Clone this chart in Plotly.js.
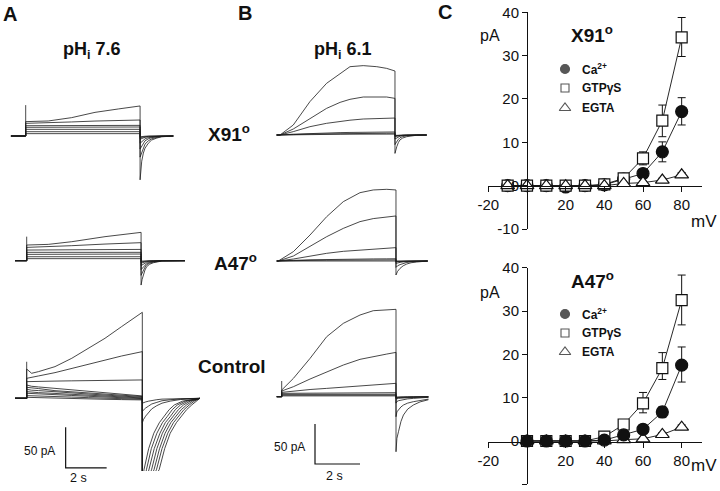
<!DOCTYPE html>
<html>
<head>
<meta charset="utf-8">
<script src="https://cdn.plot.ly/plotly-3.0.1.min.js"></script>
<style>html,body{margin:0;padding:0;background:#fff}#chart{width:720px;height:491px}</style>
</head>
<body>
<div id="chart"></div>
<script>
// ---------------- DATA (currents in pA, time in s from step onset) ----------------
// Panel A, X91 (pHi 7.6)
const aX91Hold = [-0.72];
const aX91StepT = [0, 1.1, 2.24, 3.38, 4.52, 5.58];
const aX91Steps = [
  [17.7, 18.5, 22.6, 29.1, 33.3, 37.0],
  [15.6, 16.2, 17.3, 18.4, 19.1, 19.7],
  [12.7, 12.8, 12.9, 13.0, 13.1, 13.1],
  [10.7, 10.8, 10.9, 11.0, 11.1, 11.1],
  [8.2, 8.2, 8.2, 8.2, 8.2, 8.2],
  [5.3, 5.3, 5.3, 5.3, 5.3, 5.3],
  [2.9, 2.9, 2.9, 2.9, 2.9, 2.9]
];
const aX91TailT = [5.58, 5.62, 5.66, 5.74, 5.82, 5.98, 6.14, 6.4, 6.63, 7.2];
const aX91Tails = [
  [-54, -40, -31, -21, -15, -9, -5, -2.5, -1, 0],
  [-26, -23, -20, -14, -10, -6, -3.5, -1.7, -0.7, 0],
  [-16, -14, -12, -8.5, -6, -3.5, -2, -1, -0.4, 0],
  [-9, -8, -7, -5, -3.5, -2, -1.2, -0.5, -0.2, 0],
  [-4, -3.5, -3, -2.2, -1.5, -0.9, -0.5, -0.2, 0, 0],
  [-2, -1.8, -1.5, -1.1, -0.8, -0.4, -0.2, 0, 0, 0],
  [-1, -0.8, -0.6, -0.4, -0.3, -0.1, 0, 0, 0, 0]
];
const aX91Spike = [0, 38];

// Panel A, A47
const aA47Hold = [-0.57];
const aA47StepT = [0, 1.05, 2.2, 3.82, 5.58];
const aA47Steps = [
  [19.3, 20.1, 23.4, 29.6, 34.9],
  [16.4, 17.2, 18.5, 20.5, 22.2],
  [13.1, 13.3, 13.5, 13.7, 13.9],
  [10.3, 10.3, 10.3, 10.3, 10.3],
  [7.8, 7.9, 8.0, 8.1, 8.2],
  [4.9, 4.9, 4.9, 4.9, 4.9],
  [2.5, 2.5, 2.5, 2.5, 2.5]
];
const aA47TailT = [5.58, 5.63, 5.69, 5.77, 5.85, 6.0, 6.18, 6.59, 7.72];
const aA47Tails = [
  [-30, -23, -17.6, -11.5, -7.4, -4.3, -2.5, -0.4, 0],
  [-18, -15, -12, -8, -5, -3, -1.7, -0.3, 0],
  [-11, -9.5, -8, -5.5, -3.5, -2.1, -1.2, -0.2, 0],
  [-6, -5.3, -4.5, -3, -2, -1.2, -0.7, 0, 0],
  [-3, -2.5, -2, -1.5, -1, -0.6, -0.3, 0, 0],
  [-1.5, -1.2, -1, -0.7, -0.5, -0.2, 0, 0, 0],
  [-0.5, -0.4, -0.3, -0.2, 0, 0, 0, 0, 0]
];
const aA47Spike = [0, 29.6];

// Panel A, Control
const aCtlHold = [-0.57];
const aCtlStepT = [0, 0.24, 0.57, 1.38, 2.2, 3.0, 3.82, 4.63, 5.64];
const aCtlSteps = [
  [36, 30.8, 32.8, 39, 49.3, 61.6, 73.9, 88.3, 105.9],
  [24.6, 25.5, 27.5, 31.6, 36.9, 42.3, 47.2, 52.1, 57.5],
  [20.5, 20.5, 20.8, 21.2, 21.5, 21.8, 22.1, 22.3, 22.6],
  [16.4, 14.8, 14.0, 12.3, 10.7, 8.2, 6.5, 4.9, 2.9],
  [13.5, 12.5, 12.0, 9.4, 8.0, 6.6, 5.0, 3.7, 2.1],
  [11.1, 10.0, 9.5, 7.8, 6.5, 5.3, 4.0, 2.9, 1.2],
  [8.2, 7.4, 7.0, 6.0, 5.0, 4.0, 3.0, 2.0, 0.4],
  [6.2, 5.8, 5.4, 4.4, 3.5, 2.5, 1.5, 0.5, -0.4],
  [3.3, 3.0, 2.8, 2.2, 1.5, 0.8, 0, -0.6, -1.2],
  [1.2, 1.0, 0.8, 0.3, -0.2, -0.7, -1.2, -1.6, -2.0]
];
const aCtlTailT = [
  [5.64, 5.72, 5.95, 6.2, 6.47, 6.7, 6.95, 7.2, 7.6, 8.45],
  [5.64, 5.84, 6.08, 6.35, 6.62, 6.85, 7.1, 7.35, 7.72, 8.45],
  [5.64, 5.96, 6.22, 6.5, 6.76, 7.0, 7.25, 7.5, 7.85, 8.45],
  [5.64, 6.09, 6.35, 6.62, 6.9, 7.13, 7.4, 7.65, 7.97, 8.45],
  [5.64, 6.21, 6.48, 6.75, 7.03, 7.27, 7.54, 7.8, 8.08, 8.45],
  [5.64, 6.33, 6.6, 6.88, 7.16, 7.4, 7.67, 7.93, 8.18, 8.45],
  [5.64, 6.46, 6.73, 7.0, 7.3, 7.55, 7.8, 8.05, 8.27, 8.45],
  [5.64, 5.7, 5.8, 5.95, 6.1, 6.35, 6.6, 7.0, 7.5, 8.45],
  [5.64, 5.7, 5.8, 5.95, 6.1, 6.35, 6.6, 7.0, 7.5, 8.45],
  [5.64, 5.7, 5.8, 5.95, 6.1, 6.35, 6.6, 7.0, 7.5, 8.45]
];
const aCtlTails = [
  [-120, -88, -62, -43, -30, -22.6, -14, -8.2, -3.5, 0],
  [-120, -88, -62, -43, -30, -22.6, -14, -8.2, -3.5, 0],
  [-120, -88, -62, -43, -30, -22.6, -14, -8.2, -3.5, 0],
  [-120, -88, -62, -43, -30, -22.6, -14, -8.2, -3.5, 0],
  [-120, -88, -62, -43, -30, -22.6, -14, -8.2, -3.5, 0],
  [-120, -88, -62, -43, -30, -22.6, -14, -8.2, -3.5, 0],
  [-120, -88, -62, -43, -30, -22.6, -14, -8.2, -3.5, 0],
  [-30, -26, -22, -17, -13, -9, -6, -3.5, -1.5, 0],
  [-16, -14, -12, -9.5, -7, -5, -3, -1.8, -0.8, 0],
  [-6, -5.3, -4.5, -3.5, -2.5, -1.7, -1, -0.6, -0.3, 0]
];
const aCtlSpike = [0, 45];

// Panel B, X91 (pHi 6.1)
const bX91Hold = [-0.15];
const bX91StepT = [0, 0.59, 1.33, 2.07, 2.67, 3.11, 3.7, 4.3, 4.74, 5.11];
const bX91Steps = [
  [0, 12.5, 41.7, 64.6, 77.1, 85.4, 86.7, 85.4, 83.3, 80.0],
  [0, 7.5, 20.8, 33.3, 40.8, 44.6, 47.5, 47.9, 47.5, 45.8],
  [0, 4.2, 10.4, 14.6, 17.0, 18.5, 20.0, 20.8, 21.0, 21.2],
  [0, 1.0, 2.0, 2.5, 3.0, 3.2, 3.5, 3.6, 3.7, 3.8],
  [0, 0.5, 1.2, 1.6, 1.8, 2.0, 2.1, 2.2, 2.2, 2.3],
  [0, 0.3, 0.6, 0.8, 0.9, 1.0, 1.0, 1.1, 1.1, 1.1]
];
const bX91TailT = [5.11, 5.15, 5.19, 5.26, 5.33, 5.45, 5.63, 6.07, 6.52];
const bX91Tails = [
  [-23, -18, -14.6, -9.5, -6.2, -3.8, -2.1, -0.3, 0],
  [-12, -10, -8, -5.5, -3.5, -2, -1, 0, 0],
  [-5, -4.2, -3.5, -2.4, -1.5, -0.8, -0.4, 0, 0],
  [-2, -1.7, -1.5, -1, -0.7, -0.4, -0.2, 0, 0],
  [-1, -0.8, -0.7, -0.5, -0.3, -0.1, 0, 0, 0],
  [-0.5, -0.4, -0.3, -0.2, 0, 0, 0, 0, 0]
];

// Panel B, A47
const bA47Hold = [-0.07];
const bA47StepT = [0, 0.67, 1.41, 2.15, 2.89, 3.63, 4.22, 4.82, 5.23];
const bA47Steps = [
  [0, 11.7, 32.5, 55.4, 74.2, 85.4, 88.8, 89.6, 88.8],
  [0, 6.25, 17.9, 30.4, 40.8, 49.2, 53.0, 55.4, 56.3],
  [0, 2.5, 6.25, 9.6, 12.1, 13.75, 15.0, 16.0, 16.7],
  [0, 0.8, 1.5, 2.0, 2.3, 2.5, 2.6, 2.7, 2.8],
  [0, 0.4, 0.8, 1.0, 1.1, 1.2, 1.3, 1.3, 1.4],
  [0, 0.2, 0.3, 0.4, 0.5, 0.5, 0.5, 0.6, 0.6]
];
const bA47TailT = [5.23, 5.3, 5.41, 5.55, 5.71, 5.9, 6.15, 6.64];
const bA47Tails = [
  [-17.5, -13, -9.2, -6, -3.75, -2.2, -1.25, 0],
  [-8, -6, -4.5, -3, -1.8, -1, -0.5, 0],
  [-3, -2.3, -1.7, -1.1, -0.7, -0.4, -0.2, 0],
  [-1, -0.8, -0.5, -0.3, -0.2, -0.1, 0, 0],
  [-0.5, -0.4, -0.2, -0.1, 0, 0, 0, 0],
  [-0.3, -0.2, 0, 0, 0, 0, 0, 0]
];

// Panel B, Control
const bCtlHold = [-0.22];
const bCtlStepT = [0, 0.52, 1.26, 2.0, 2.74, 3.48, 4.07, 4.67, 5.08];
const bCtlSteps = [
  [8.3, 22.9, 47.9, 75.0, 91.7, 102.1, 107.5, 108.8, 109.2],
  [7.1, 12.5, 22.1, 31.3, 39.6, 46.7, 50.4, 53.3, 55.4],
  [5.4, 7.1, 9.0, 10.4, 11.7, 13.0, 14.0, 15.3, 16.7],
  [4.2, 4.2, 4.3, 4.4, 4.5, 4.6, 4.7, 4.8, 5.0],
  [3.0, 3.0, 3.0, 3.0, 3.0, 3.0, 3.0, 3.0, 3.1],
  [2.0, 2.0, 2.0, 2.0, 2.0, 2.0, 2.0, 2.0, 2.0],
  [1.0, 1.0, 1.0, 1.0, 1.0, 1.0, 1.0, 1.0, 1.0]
];
const bCtlTailT = [5.08, 5.12, 5.19, 5.3, 5.41, 5.6, 5.85, 6.15, 6.52];
const bCtlTails = [
  [-68.8, -52, -43.8, -31, -22.9, -15.5, -10.4, -6.5, -3.8],
  [-25, -19, -16, -12.8, -10.4, -8, -6.25, -4.5, -3.0],
  [-8, -6, -5, -4.2, -3.5, -2.7, -2.1, -1.4, -0.8],
  [-3, -2.5, -2, -1.8, -1.5, -1.2, -1, -0.7, -0.4],
  [-2, -1.6, -1.3, -1.1, -0.9, -0.7, -0.5, -0.3, -0.2],
  [-1, -0.8, -0.6, -0.5, -0.4, -0.3, -0.2, -0.1, 0],
  [-0.5, -0.4, -0.3, -0.25, -0.2, -0.1, 0, 0, 0]
];
const bCtlSpike = [0, 19.6];

// Scale bars
const scaleBarPA = [50];
const scaleBarS = [2];

// Panel C: current-voltage relations (pA vs mV)
const cTopV = [-10, 0, 10, 20, 30, 40, 50, 60, 70, 80];
const cTopCa = [0, 0, 0, -0.3, 0, 0.2, 1.5, 2.8, 7.8, 17.1];
const cTopCaErrUp = [0, 0, 0, 0, 0, 0, 0.4, 0.8, 2.3, 3.2];
const cTopCaErrDn = [0, 0, 0, 0, 0, 0, 0.4, 0.8, 2.3, 3.1];
const cTopGtp = [0, 0, 0, 0, 0, 0.3, 1.7, 6.3, 15.0, 34.2];
const cTopGtpErrUp = [0, 0, 0, 0, 0, 0, 0.5, 1.5, 3.6, 4.6];
const cTopGtpErrDn = [0, 0, 0, 0, 0, 0, 0.5, 1.5, 3.7, 4.4];
const cTopEgta = [0, 0, 0, 0, 0, 0, 0.5, 0.7, 1.3, 2.5];
const cTopEgtaErr = [0, 0, 0, 0, 0, 0, 0.2, 0.3, 0.4, 0.5];

const cBotV = [0, 10, 20, 30, 40, 50, 60, 70, 80];
const cBotCa = [0, 0, 0, 0, 0.2, 1.4, 2.7, 6.7, 17.5];
const cBotCaErrUp = [0, 0, 0, 0, 0, 0.5, 0.8, 1.2, 4.2];
const cBotCaErrDn = [0, 0, 0, 0, 0, 0.5, 0.8, 1.3, 3.9];
const cBotGtp = [0, 0, 0, 0, 1.0, 3.8, 8.7, 16.8, 32.5];
const cBotGtpErrUp = [0, 0, 0, 0, 0.3, 0.8, 2.5, 3.6, 5.8];
const cBotGtpErrDn = [0, 0, 0, 0, 0.3, 0.8, 2.2, 2.6, 5.7];
const cBotEgta = [0, 0, 0, 0, 0, 0.3, 0.5, 1.5, 3.2];
const cBotEgtaErr = [0, 0, 0, 0, 0, 0.2, 0.3, 0.4, 0.5];

const cXTicks = [-20, 20, 40, 60, 80];
const cXTickText = ['-20', '20', '40', '60', '80'];
const cYTicks = [-10, 0, 10, 20, 30, 40];
const cYTickText = ['-10', '0', '10', '20', '30', '40'];
const seriesNames = ['Ca<sup>2+</sup>', 'GTPγS', 'EGTA'];

// ---------------- LAYOUT / DRAWING ----------------
const W = 720, H = 491;
const FONT = 'Liberation Sans, Arial, Helvetica, sans-serif';
const INK = '#111';
const traces = [];
const layout = {
  width: W, height: H,
  margin: {l: 0, r: 0, t: 0, b: 0, pad: 0},
  paper_bgcolor: '#fff', plot_bgcolor: 'rgba(0,0,0,0)',
  showlegend: false,
  font: {family: FONT, color: INK},
  annotations: []
};
const sfx = n => (n === 1 ? '' : String(n));

// trace panel axes: pixel box + anchor pixel of (t=0, I=0) + scales
function tracePanel(n, x0, x1, y0, y1, t0px, basePx, pxPerS, pxPerPA) {
  layout['xaxis' + sfx(n)] = {
    domain: [x0 / W, x1 / W], range: [(x0 - t0px) / pxPerS, (x1 - t0px) / pxPerS],
    visible: false, fixedrange: true, anchor: 'y' + sfx(n)
  };
  layout['yaxis' + sfx(n)] = {
    domain: [1 - y1 / H, 1 - y0 / H], range: [(basePx - y1) / pxPerPA, (basePx - y0) / pxPerPA],
    visible: false, fixedrange: true, anchor: 'x' + sfx(n)
  };
}
tracePanel(1, 0, 240, 80, 195, 25.7, 136, 20.5, 0.812);
tracePanel(2, 0, 240, 215, 300, 26.7, 260.7, 20.5, 0.812);
tracePanel(3, 0, 240, 300, 471, 26.7, 398.3, 20.5, 0.812);
tracePanel(4, 255, 440, 50, 170, 280, 135, 22.5, 0.8);
tracePanel(5, 255, 440, 172, 300, 278.3, 261, 22.5, 0.8);
tracePanel(6, 255, 440, 300, 476, 281.7, 396.7, 22.5, 0.8);

function addSweeps(n, hold, stepT, steps, tailT, tails) {
  steps.forEach((s, i) => {
    const tt = Array.isArray(tailT[0]) ? tailT[i] : tailT;
    traces.push({
      type: 'scatter', mode: 'lines',
      x: [hold[0], 0].concat(stepT, tt),
      y: [0, 0].concat(s, tails[i]),
      xaxis: 'x' + sfx(n), yaxis: 'y' + sfx(n),
      line: {color: '#1a1a1a', width: 0.8}, hoverinfo: 'skip'
    });
  });
}
function addSpike(n, spike) {
  traces.push({type: 'scatter', mode: 'lines', x: [0, 0], y: spike,
    xaxis: 'x' + sfx(n), yaxis: 'y' + sfx(n), line: {color: '#1a1a1a', width: 0.8}, hoverinfo: 'skip'});
}
addSweeps(1, aX91Hold, aX91StepT, aX91Steps, aX91TailT, aX91Tails); addSpike(1, aX91Spike);
addSweeps(2, aA47Hold, aA47StepT, aA47Steps, aA47TailT, aA47Tails); addSpike(2, aA47Spike);
addSweeps(3, aCtlHold, aCtlStepT, aCtlSteps, aCtlTailT, aCtlTails); addSpike(3, aCtlSpike);
addSweeps(4, bX91Hold, bX91StepT, bX91Steps, bX91TailT, bX91Tails);
addSweeps(5, bA47Hold, bA47StepT, bA47Steps, bA47TailT, bA47Tails);
addSweeps(6, bCtlHold, bCtlStepT, bCtlSteps, bCtlTailT, bCtlTails); addSpike(6, bCtlSpike);

// scale bars (corner placed in panel coordinates)
function scaleBar(n, t, i) {
  traces.push({type: 'scatter', mode: 'lines',
    x: [t, t, t + scaleBarS[0]], y: [i + scaleBarPA[0], i, i],
    xaxis: 'x' + sfx(n), yaxis: 'y' + sfx(n), line: {color: INK, width: 1.2}, hoverinfo: 'skip'});
}
scaleBar(3, 1.9, -85.8);
scaleBar(6, 1.48, -84.1);

// Panel C axes
function ivAxes(n, yTopPx, yBotPx, zeroPx) {
  const axX0 = 487.8, axX1 = 702, x0px = 527, pxPerMV = 1.9333;
  layout['xaxis' + n] = {
    domain: [axX0 / W, axX1 / W], range: [(axX0 - x0px) / pxPerMV, (axX1 - x0px) / pxPerMV],
    anchor: 'free', position: 1 - zeroPx / H, showline: true, linecolor: INK, linewidth: 1,
    ticks: 'outside', ticklen: 5, tickwidth: 1, tickcolor: INK,
    tickvals: cXTicks, ticktext: cXTickText, tickfont: {size: 15, family: FONT, color: INK},
    showgrid: false, zeroline: false, fixedrange: true
  };
  layout['yaxis' + n] = {
    domain: [1 - yBotPx / H, 1 - yTopPx / H], range: [-10, 40],
    anchor: 'free', position: x0px / W, showline: true, linecolor: INK, linewidth: 1,
    ticks: 'outside', ticklen: 5, tickwidth: 1, tickcolor: INK,
    tickvals: cYTicks, ticktext: cYTickText, tickfont: {size: 15, family: FONT, color: INK},
    showgrid: false, zeroline: false, fixedrange: true
  };
}
ivAxes(7, 12.3, 229, 185.7);
ivAxes(8, 267.7, 484.3, 441.7);

function ivTrace(n, x, y, up, dn, sym, fill, size) {
  traces.push({
    type: 'scatter', mode: 'lines+markers', x, y, xaxis: 'x' + n, yaxis: 'y' + n,
    line: {color: INK, width: 0.9},
    marker: {symbol: sym, size, color: fill, line: {color: INK, width: 1.2}},
    error_y: {type: 'data', symmetric: false, array: up, arrayminus: dn, color: INK, thickness: 1, width: 4},
    cliponaxis: false, hoverinfo: 'skip'
  });
}
ivTrace(7, cTopV, cTopCa, cTopCaErrUp, cTopCaErrDn, 'circle', INK, 12);
ivTrace(7, cTopV, cTopGtp, cTopGtpErrUp, cTopGtpErrDn, 'square', '#fff', 11);
ivTrace(7, cTopV, cTopEgta, cTopEgtaErr, cTopEgtaErr, 'triangle-up', '#fff', 12);
ivTrace(8, cBotV, cBotEgta, cBotEgtaErr, cBotEgtaErr, 'triangle-up', '#fff', 12);
ivTrace(8, cBotV, cBotGtp, cBotGtpErrUp, cBotGtpErrDn, 'square', '#fff', 11);
ivTrace(8, cBotV, cBotCa, cBotCaErrUp, cBotCaErrDn, 'circle', INK, 12);

// overlay (page pixel units) for the key glyphs in panel C
layout.xaxis9 = {domain: [0, 1], range: [0, W], visible: false, fixedrange: true, anchor: 'y9'};
layout.yaxis9 = {domain: [0, 1], range: [H, 0], visible: false, fixedrange: true, anchor: 'x9'};
const keyRowsTop = [69, 88, 108], keyRowsBot = [314, 333, 352];
const keySyms = ['circle', 'square', 'triangle-up'];
[keyRowsTop, keyRowsBot].forEach(rows => {
  traces.push({
    type: 'scatter', mode: 'markers', x: [565, 565, 565], y: rows, xaxis: 'x9', yaxis: 'y9',
    marker: {symbol: keySyms, size: [9, 8, 10], color: [INK, '#fff', '#fff'], line: {color: INK, width: 1.1}},
    hoverinfo: 'skip'
  });
  rows.forEach((ry, k) => layout.annotations.push({
    text: '<b>' + seriesNames[k] + '</b>', xref: 'paper', yref: 'paper',
    x: 580 / W, y: 1 - ry / H, xanchor: 'left', yanchor: 'middle', showarrow: false,
    font: {size: 12, family: FONT, color: INK}
  }));
});

// text labels
const labels = [
  ['<b>A</b>', 9.5, 13.5, 20], ['<b>B</b>', 245, 12.5, 20], ['<b>C</b>', 444.5, 12, 20],
  ['<b>pH<sub>i</sub> 7.6</b>', 92, 50, 18], ['<b>pH<sub>i</sub> 6.1</b>', 343, 51, 18],
  ['<b>X91<sup>o</sup></b>', 229, 133.5, 19], ['<b>A47<sup>o</sup></b>', 235.5, 262, 19],
  ['<b>Control</b>', 232, 366, 19],
  ['<b>X91<sup>o</sup></b>', 592, 34, 19], ['<b>A47<sup>o</sup></b>', 592, 280, 19],
  ['pA', 490, 35, 16], ['pA', 490, 292, 16], ['mV', 703.5, 221.5, 17], ['mV', 703.5, 465, 17],
  ['50 pA', 39, 451, 12], ['50 pA', 289, 447, 12], ['2 s', 78.5, 478, 12.5], ['2 s', 334.5, 476, 12.5]
];
labels.forEach(([t, x, y, s]) => layout.annotations.push({
  text: t, xref: 'paper', yref: 'paper', x: x / W, y: 1 - y / H,
  xanchor: 'center', yanchor: 'middle', showarrow: false, font: {size: s, family: FONT, color: INK}
}));

traces.forEach(t => { t.showlegend = false; });
Plotly.newPlot('chart', traces, layout, {displayModeBar: false, staticPlot: true});
</script>
</body>
</html>
